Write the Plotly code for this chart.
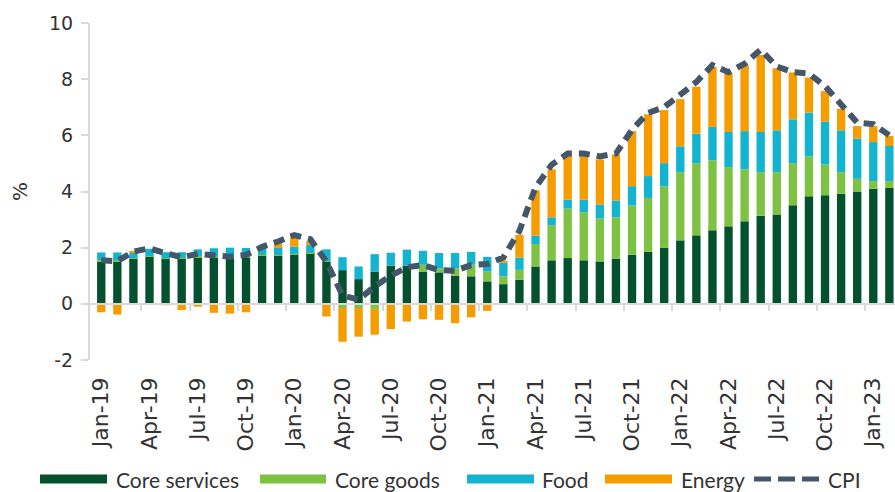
import plotly.graph_objects as go
import pandas as pd

# ---------------- data ----------------
months = pd.date_range("2019-01-01", periods=50, freq="MS").strftime("%b-%y").tolist()
tick_labels = ["Jan-19", "Apr-19", "Jul-19", "Oct-19", "Jan-20", "Apr-20", "Jul-20", "Oct-20",
               "Jan-21", "Apr-21", "Jul-21", "Oct-21", "Jan-22", "Apr-22", "Jul-22", "Oct-22", "Jan-23"]
y_ticks = [-2, 0, 2, 4, 6, 8, 10]
y_tick_labels = ["-2", "0", "2", "4", "6", "8", "10"]

core_services = [1.52, 1.50, 1.60, 1.68, 1.60, 1.62, 1.66, 1.65, 1.60, 1.66, 1.72, 1.72,
                 1.76, 1.80, 1.50, 1.20, 0.88, 1.15, 1.36, 1.36, 1.15, 1.12, 1.00, 0.98,
                 0.80, 0.70, 0.86, 1.33, 1.55, 1.63, 1.55, 1.51, 1.61, 1.75, 1.85, 1.99,
                 2.26, 2.44, 2.62, 2.76, 2.94, 3.14, 3.18, 3.51, 3.83, 3.87, 3.92, 4.00,
                 4.10, 4.13]
core_goods = [0.04, 0.05, 0.03, 0.02, 0.02, 0.02, 0.04, 0.03, 0.02, 0.07, 0.03, 0.02,
              0.02, 0.02, 0.02, -0.15, -0.15, -0.18, 0.00, 0.00, 0.24, 0.14, 0.27, 0.41,
              0.35, 0.28, 0.35, 0.80, 1.25, 1.76, 1.71, 1.53, 1.47, 1.75, 1.92, 2.19,
              2.43, 2.57, 2.49, 2.11, 1.85, 1.55, 1.51, 1.50, 1.42, 1.09, 0.77, 0.45,
              0.27, 0.24]
food = [0.27, 0.28, 0.20, 0.26, 0.22, 0.20, 0.24, 0.30, 0.38, 0.26, 0.25, 0.25,
        0.26, 0.28, 0.42, 0.46, 0.45, 0.62, 0.46, 0.57, 0.50, 0.55, 0.54, 0.46,
        0.52, 0.48, 0.44, 0.30, 0.28, 0.32, 0.45, 0.50, 0.60, 0.69, 0.78, 0.83,
        0.92, 1.05, 1.19, 1.25, 1.36, 1.43, 1.49, 1.56, 1.56, 1.53, 1.49, 1.44,
        1.39, 1.25]
energy = [-0.30, -0.38, 0.05, 0.00, -0.05, -0.22, -0.10, -0.32, -0.35, -0.30, 0.05, 0.17,
          0.48, 0.12, -0.45, -1.20, -1.02, -0.92, -0.90, -0.63, -0.55, -0.57, -0.69, -0.48,
          -0.25, 0.08, 0.81, 1.61, 1.71, 1.61, 1.61, 1.60, 1.64, 1.96, 2.20, 1.89,
          1.68, 1.67, 2.14, 2.09, 2.35, 2.74, 2.21, 1.67, 1.25, 1.09, 0.77, 0.44,
          0.57, 0.36]
cpi = [1.55, 1.52, 1.86, 1.98, 1.80, 1.66, 1.78, 1.72, 1.68, 1.74, 2.03, 2.22,
       2.45, 2.30, 1.50, 0.30, 0.15, 0.62, 1.00, 1.30, 1.38, 1.20, 1.18, 1.38,
       1.42, 1.65, 2.60, 4.15, 4.95, 5.35, 5.35, 5.25, 5.35, 6.20, 6.80, 7.00,
       7.45, 7.90, 8.50, 8.25, 8.55, 9.05, 8.45, 8.25, 8.20, 7.75, 7.10, 6.45,
       6.40, 6.00]

series_names = ["Core services", "Core goods", "Food", "Energy"]
series_values = [core_services, core_goods, food, energy]
series_colors = ["#03512F", "#7DC243", "#14B4D0", "#F59C00"]
cpi_color = "#44566A"

# ---------------- figure ----------------
W, H = 895, 492
L, R, T, B = 90, 0, 23, 132
PW, PH = W - L - R, H - T - B

x = list(range(len(months)))
tickvals = [months.index(t) for t in tick_labels]
boundary_ticks = [v - 0.5 for v in tickvals if v > 0]

fig = go.Figure()
for name, vals, col in zip(series_names, series_values, series_colors):
    fig.add_trace(go.Bar(x=x, y=vals, name=name, marker=dict(color=col, line=dict(width=0)),
                         width=0.52, customdata=months,
                         hovertemplate="%{customdata}: %{y}<extra>" + name + "</extra>",
                         showlegend=False))

fig.add_trace(go.Scatter(x=x, y=cpi, name="CPI", mode="lines", xaxis="x2",
                         line=dict(color=cpi_color, width=6, dash="11px,7px"),
                         customdata=months,
                         hovertemplate="%{customdata}: %{y}<extra>CPI</extra>",
                         showlegend=False))

xr = [-0.7, 49.35]

fig.update_layout(
    width=W, height=H,
    margin=dict(l=L, r=R, t=T, b=B),
    paper_bgcolor="white", plot_bgcolor="white",
    barmode="relative",
    xaxis=dict(range=xr, tickmode="array", tickvals=tickvals, ticktext=tick_labels,
               tickangle=-90, showgrid=False, zeroline=False, showline=False, ticks="",
               ticklabelstandoff=12, automargin=False,
               tickfont=dict(family="DejaVu Sans", size=22, color="#333333")),
    xaxis2=dict(range=xr, overlaying="x", anchor="free", position=2 / 12, side="bottom",
                showgrid=False, zeroline=False, showline=True, linecolor="#D9D9D9", linewidth=2,
                ticks="outside", tickmode="array", tickvals=boundary_ticks, ticklen=6,
                tickcolor="#D9D9D9", tickwidth=2, showticklabels=False, automargin=False),
    yaxis=dict(range=[-2, 10], tickmode="array", tickvals=y_ticks, ticktext=y_tick_labels,
               showgrid=False, zeroline=False, showline=True, linecolor="#D9D9D9", linewidth=2,
               ticks="outside", ticklen=7, tickcolor="#D9D9D9", tickwidth=2,
               ticklabelstandoff=4, automargin=False,
               tickfont=dict(family="DejaVu Sans", size=19, color="#333333"),
               title=dict(text="%", font=dict(family="DejaVu Sans", size=20, color="#333333"),
                          standoff=16)),
)

# ---------------- legend (drawn below the plot) ----------------
def px_x(px):
    return (px - L) / PW

def px_y(py):
    return (H - B - py) / PH

leg_y = 479
swatches = [(40, 107), (260, 326), (467, 534), (605, 672)]
text_x = [114, 333, 540, 679]
for (x0, x1), tx, name, col in zip(swatches, text_x, series_names, series_colors):
    fig.add_shape(type="rect", xref="paper", yref="paper",
                  x0=px_x(x0), x1=px_x(x1), y0=px_y(leg_y + 4.5), y1=px_y(leg_y - 4.5),
                  fillcolor=col, line=dict(width=0))
    fig.add_annotation(text=name, xref="paper", yref="paper", x=px_x(tx), y=px_y(leg_y),
                       xanchor="left", yanchor="middle", showarrow=False,
                       font=dict(family="Lato", size=21, color="#333333"))
fig.add_shape(type="line", xref="paper", yref="paper",
              x0=px_x(754), x1=px_x(822), y0=px_y(leg_y), y1=px_y(leg_y),
              line=dict(color=cpi_color, width=5, dash="17px,7px"))
fig.add_annotation(text="CPI", xref="paper", yref="paper", x=px_x(826), y=px_y(leg_y),
                   xanchor="left", yanchor="middle", showarrow=False,
                   font=dict(family="Lato", size=21, color="#333333"))

fig.write_html("out.html", config={"displayModeBar": False},
               post_script="document.body.style.margin='0';document.body.style.overflow='hidden';")
